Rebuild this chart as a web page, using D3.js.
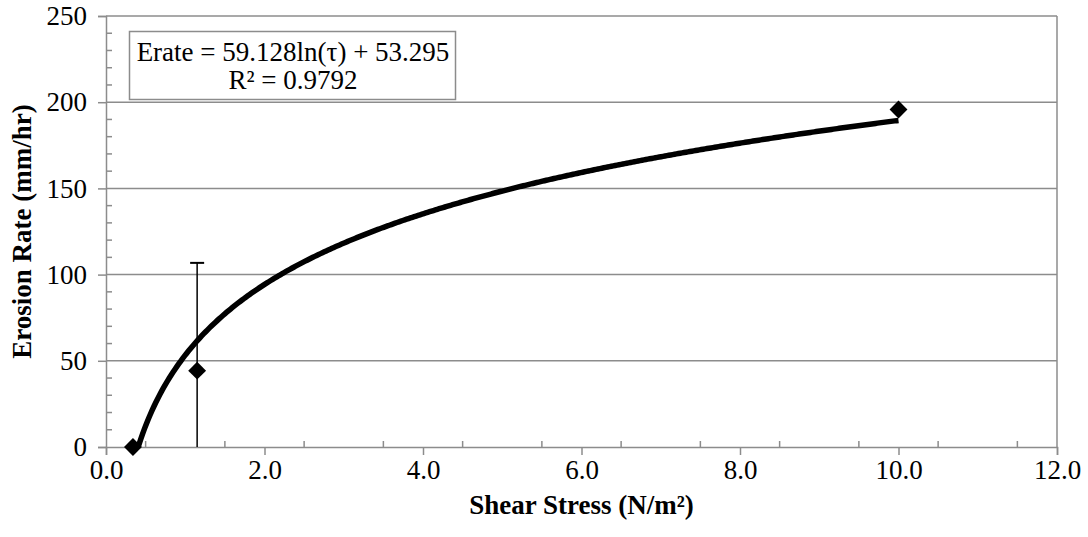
<!DOCTYPE html>
<html><head><meta charset="utf-8">
<script src="https://cdn.jsdelivr.net/npm/d3@7"></script>
<style>body{margin:0;background:#fff}svg{display:block}svg text{font-family:"Liberation Serif","Times New Roman",serif !important}</style>
</head><body>
<svg id="c" width="1088" height="537"></svg>
<script>
const shearStress = [0.34, 1.15, 10.0];
const erosionRate = [0, 44.3, 195.8];
const errorPlus = [0, 62.5, 0];
const errorMinus = [0, 44.3, 0];
const xTicks = [0, 2, 4, 6, 8, 10, 12];
const yTicks = [0, 50, 100, 150, 200, 250];
const trendA = 59.128, trendB = 53.295;
const trendLabel = ["Erate = 59.128ln(τ) + 53.295", "R² = 0.9792"];

const svg = d3.select("#c");
const L = 106, R = 1057, T = 16, B = 447;
const FS = 27;
const x = d3.scaleLinear().domain([0, 12]).range([L, R]);
const y = d3.scaleLinear().domain([0, 250]).range([B, T]);
const grey = "#8c8c8c";

// gridlines
svg.append("g").selectAll("line").data(yTicks.filter(d => d > 0)).join("line")
  .attr("x1", L).attr("x2", R).attr("y1", d => y(d)).attr("y2", d => y(d))
  .attr("stroke", grey).attr("stroke-width", 1.5);
svg.append("line").attr("x1", R).attr("x2", R).attr("y1", T).attr("y2", B).attr("stroke", grey).attr("stroke-width", 1.5);

// axes
const xAxis = d3.axisBottom(x).tickValues(xTicks).tickFormat(d3.format(".1f")).tickSize(8).tickPadding(5);
const gx = svg.append("g").attr("transform", `translate(0,${B})`).call(xAxis);
const yAxis = d3.axisLeft(y).tickValues(yTicks).tickSize(8).tickPadding(11);
const gy = svg.append("g").attr("transform", `translate(${L},0)`).call(yAxis);
[gx, gy].forEach(g => {
  g.attr("font-family", null).attr("font-size", null);
  g.select(".domain").attr("stroke", grey).attr("stroke-width", 1.5);
  g.selectAll(".tick line").attr("stroke", grey).attr("stroke-width", 1.5);
  g.selectAll("text").attr("font-size", FS).attr("fill", "#000");
});
// minor ticks
const xMinor = d3.range(0.5, 12, 1);
svg.append("g").selectAll("line").data(xMinor).join("line")
  .attr("x1", d => x(d)).attr("x2", d => x(d)).attr("y1", B).attr("y2", B - 6)
  .attr("stroke", grey).attr("stroke-width", 1.5);
const yMinor = d3.range(10, 250, 10).filter(d => d % 50 !== 0);
svg.append("g").selectAll("line").data(yMinor).join("line")
  .attr("x1", L).attr("x2", L + 6).attr("y1", d => y(d)).attr("y2", d => y(d))
  .attr("stroke", grey).attr("stroke-width", 1.5);

svg.append("clipPath").attr("id", "clip").append("rect").attr("x", L).attr("y", T).attr("width", R - L).attr("height", B - T);

// trendline
const xs = d3.range(0, 401).map(i => shearStress[0] + (shearStress[2] - shearStress[0]) * i / 400);
const line = d3.line().x(d => x(d)).y(d => y(trendA * Math.log(d) + trendB));
svg.append("path").attr("d", line(xs)).attr("fill", "none").attr("stroke", "#000")
  .attr("stroke-width", 5.5).attr("clip-path", "url(#clip)");

// error bars
const eb = svg.append("g");
shearStress.forEach((s, i) => {
  if (errorPlus[i] === 0 && errorMinus[i] === 0) return;
  const top = erosionRate[i] + errorPlus[i], bot = erosionRate[i] - errorMinus[i];
  eb.append("line").attr("x1", x(s)).attr("x2", x(s)).attr("y1", y(top)).attr("y2", y(bot)).attr("stroke", "#000").attr("stroke-width", 1.5);
  eb.append("line").attr("x1", x(s) - 7).attr("x2", x(s) + 7).attr("y1", y(top)).attr("y2", y(top)).attr("stroke", "#000").attr("stroke-width", 2);
});

// markers
const sym = d3.symbol().type(d3.symbolSquare).size(160);
svg.append("g").selectAll("path").data(shearStress).join("path")
  .attr("d", sym).attr("transform", (d, i) => `translate(${x(d)},${y(erosionRate[i])}) rotate(45)`)
  .attr("fill", "#000");

// equation box
svg.append("rect").attr("x", 129.5).attr("y", 31.5).attr("width", 326).attr("height", 68)
  .attr("fill", "#fff").attr("stroke", grey).attr("stroke-width", 1.5);
svg.append("text").attr("x", 293).attr("y", 61).attr("text-anchor", "middle").attr("font-size", FS).text(trendLabel[0]);
svg.append("text").attr("x", 293).attr("y", 89).attr("text-anchor", "middle").attr("font-size", FS).text(trendLabel[1]);

// axis titles
svg.append("text").attr("x", (L + R) / 2).attr("y", 514).attr("text-anchor", "middle")
  .attr("font-size", FS).attr("font-weight", "bold").text("Shear Stress (N/m²)");
svg.append("text").attr("transform", `translate(31,${(T + B) / 2}) rotate(-90)`).attr("text-anchor", "middle")
  .attr("font-size", FS).attr("font-weight", "bold").text("Erosion Rate (mm/hr)");
</script>
</body></html>
